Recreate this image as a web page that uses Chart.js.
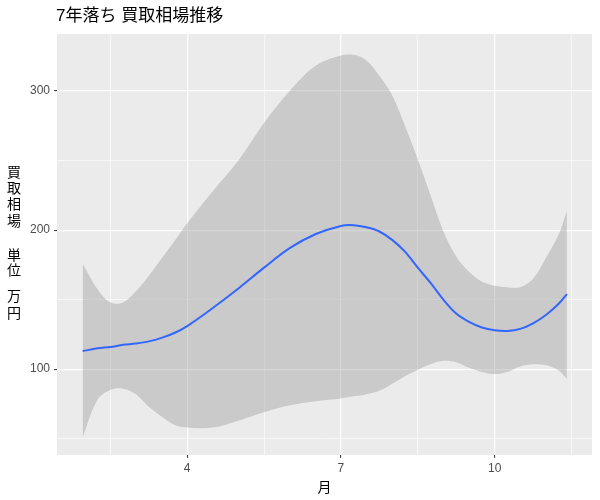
<!DOCTYPE html>
<html lang="ja">
<head>
<meta charset="UTF-8">
<title>7年落ち 買取相場推移</title>
<script src="https://cdn.jsdelivr.net/npm/chart.js"></script>
<style>
    body { margin: 0; background: #ffffff; }
    canvas { display: block; }
</style>
</head>
<body>
<canvas id="chart" width="600" height="500"></canvas>
<script>
// months (x) and smoothed values
const months = [1.96, 2.25, 2.5, 2.75, 3.0, 3.25, 3.5, 3.75, 4.0, 4.5, 5.0, 5.5, 6.0, 6.5, 7.0, 7.25, 7.5, 7.75,
                8.0, 8.25, 8.5, 8.75, 9.0, 9.25, 9.5, 9.75, 10.0, 10.25, 10.5, 10.75, 11.0, 11.25, 11.41];
const fitValues = [113, 115, 116, 117.5, 118.5, 120, 122.5, 126, 131, 144, 158, 173, 187, 197, 203, 203.5, 202, 199,
                   193, 184.5, 173, 162, 150, 140, 134, 130, 128, 127.5, 129, 133, 139, 147, 154];
const upperValues = [176, 157.5, 148, 148, 156, 167, 179.5, 192, 205, 228, 250, 277, 300, 318, 325.5, 326, 322, 311,
                     297, 275, 251, 225, 199, 181, 170, 163, 160, 159, 159, 165, 180, 197, 214];
const lowerValues = [51, 78, 85, 86, 82, 73, 66, 60, 58, 58, 63, 69, 74, 77, 79, 80.5, 82, 84.5,
                     89.5, 95, 99.5, 103.5, 106, 105, 101, 98, 96.5, 98, 102, 103.5, 103, 99, 93];

// axis ticks (major labelled, minor only grid)
const xMajor = [4, 7, 10];
const xMinor = [2.5, 5.5, 8.5, 11.5];
const yMajor = [100, 200, 300];
const yMinor = [50, 150, 250];

const chartTitle = '7年落ち 買取相場推移';
const xTitle = '月';
const yTitleChars = ['買', '取', '相', '場', '', '単', '位', '', '万', '円'];

const pts = vals => vals.map((v, i) => ({ x: months[i], y: v }));

const panelBg = {
    id: 'panelBg',
    beforeDraw(chart) {
        const { ctx, chartArea: a } = chart;
        ctx.save();
        ctx.fillStyle = '#EBEBEB';
        ctx.fillRect(a.left, a.top, a.right - a.left, a.bottom - a.top);
        ctx.restore();
    }
};

const labels = {
    id: 'labels',
    afterDraw(chart) {
        const { ctx, chartArea: a } = chart;
        ctx.save();
        ctx.fillStyle = '#000000';
        ctx.textBaseline = 'middle';
        ctx.textAlign = 'left';
        ctx.font = '17px "Liberation Sans", "Noto Sans CJK JP", sans-serif';
        ctx.fillText(chartTitle, 56, 16);

        ctx.textAlign = 'center';
        ctx.font = '14px "Noto Sans CJK JP", sans-serif';
        ctx.fillText(xTitle, (a.left + a.right) / 2, 487);

        const ys = [172, 188, 204, 221, 0, 255, 270, 0, 296, 313];
        yTitleChars.forEach((c, i) => {
            if (c) ctx.fillText(c, 14, ys[i]);
        });
        ctx.restore();
    }
};

const isMajor = (list, v) => list.some(m => Math.abs(m - v) < 1e-6);

new Chart(document.getElementById('chart'), {
    type: 'line',
    data: {
        datasets: [
            {
                data: pts(upperValues),
                borderWidth: 0,
                pointRadius: 0,
                fill: '+1',
                backgroundColor: 'rgba(153,153,153,0.4)',
                tension: 0.35,
                order: 2
            },
            {
                data: pts(lowerValues),
                borderWidth: 0,
                pointRadius: 0,
                fill: false,
                tension: 0.35,
                order: 2
            },
            {
                data: pts(fitValues),
                borderColor: '#3366FF',
                borderWidth: 2,
                pointRadius: 0,
                fill: false,
                tension: 0.35,
                order: 0
            }
        ]
    },
    options: {
        responsive: false,
        animation: false,
        layout: { padding: { top: 34, right: 8, left: 0, bottom: 0 } },
        plugins: {
            legend: { display: false },
            tooltip: { enabled: false },
            title: { display: false }
        },
        scales: {
            x: {
                type: 'linear',
                min: 1.46,
                max: 11.9,
                afterBuildTicks: s => {
                    s.ticks = [...xMinor, ...xMajor].sort((a, b) => a - b).map(v => ({ value: v }));
                },
                afterFit: s => { s.height = 45; },
                border: { display: false },
                grid: {
                    color: '#FFFFFF',
                    lineWidth: c => isMajor(xMajor, c.tick.value) ? 1.2 : 0.6,
                    tickColor: c => isMajor(xMajor, c.tick.value) ? '#333333' : 'rgba(0,0,0,0)',
                    tickLength: 3,
                    tickWidth: 1
                },
                ticks: {
                    autoSkip: false,
                    maxRotation: 0,
                    padding: 3,
                    color: '#4D4D4D',
                    font: { family: '"Liberation Sans", Arial, sans-serif', size: 12 },
                    callback: v => isMajor(xMajor, v) ? String(v) : ''
                }
            },
            y: {
                min: 38.3,
                max: 341,
                afterBuildTicks: s => {
                    s.ticks = [...yMinor, ...yMajor].sort((a, b) => a - b).map(v => ({ value: v }));
                },
                afterFit: s => { s.width = 57; },
                border: { display: false },
                grid: {
                    color: '#FFFFFF',
                    lineWidth: c => isMajor(yMajor, c.tick.value) ? 1.2 : 0.6,
                    tickColor: c => isMajor(yMajor, c.tick.value) ? '#333333' : 'rgba(0,0,0,0)',
                    tickLength: 3,
                    tickWidth: 1
                },
                ticks: {
                    autoSkip: false,
                    padding: 4,
                    color: '#4D4D4D',
                    font: { family: '"Liberation Sans", Arial, sans-serif', size: 12 },
                    callback: v => isMajor(yMajor, v) ? String(v) : ''
                }
            }
        }
    },
    plugins: [panelBg, labels]
});
</script>
</body>
</html>
